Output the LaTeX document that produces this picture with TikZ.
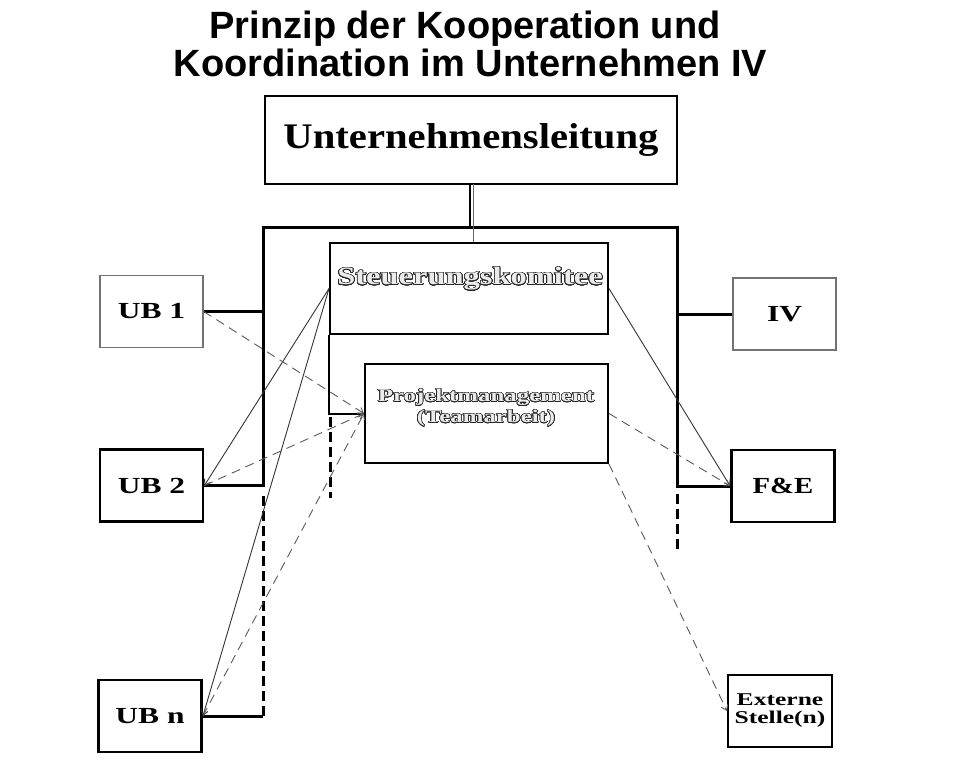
\documentclass[tikz,border=0pt]{standalone}
\usepackage{fontspec}
\setmainfont{Liberation Serif}
\newfontfamily\titlefont{Liberation Sans}
\usepackage{graphicx}
\usepackage{contour}
\contournumber{32}
\usetikzlibrary{arrows.meta,calc}
\newcommand\wide[2]{\scalebox{#1}[1]{#2}}
\newcommand\hollow[2]{\contourlength{#1}\textcolor{black!8}{\contour{black!85}{#2}}}
\begin{document}
\begin{tikzpicture}[x=1pt,y=-1pt,
  box/.style={draw,inner sep=0pt,align=center,font=\bfseries},
  ubfont/.style={font=\bfseries\fontsize{23}{26}\selectfont},
  thinbox/.style={box,draw=black!55,line width=1.4pt,minimum width=103pt,minimum height=72pt,ubfont},
  thickbox/.style={box,line width=2.8pt,minimum width=103pt,minimum height=72pt,ubfont},
  frameline/.style={line width=3pt},
  framedash/.style={line width=3pt,dash pattern=on 10pt off 5pt},
  solidlink/.style={draw=black!80,line width=0.9pt,-{Straight Barb[length=5pt,width=7pt]}},
  dashlink/.style={draw=black!65,line width=0.9pt,dash pattern=on 9pt off 6pt,-{Straight Barb[length=5pt,width=7pt]}},
]
\useasboundingbox (0,0) rectangle (977,763);

% title
\node[font=\titlefont\bfseries\fontsize{38}{40}\selectfont,anchor=base,inner sep=0] (t1) at (465,38) {Prinzip der Kooperation und};
\node[font=\titlefont\bfseries\fontsize{38}{40}\selectfont,anchor=base,inner sep=0] (t2) at (470.5,76) {Koordination im Unternehmen IV};

% boxes
\node[box,line width=2pt,minimum width=412pt,minimum height=88pt,font=\bfseries\fontsize{36}{40}\selectfont] (ul) at (471,140) {\wide{1.13}{Unternehmensleitung}};

\node[draw,line width=2pt,minimum width=278pt,minimum height=91pt,inner sep=0] (sk) at (469,288.5) {};
\node[font=\bfseries\fontsize{25}{28}\selectfont,inner sep=0] (skt) at (470,279) {\wide{1.3}{\hollow{0.6pt}{Steuerungskomitee}}};

\node[draw,line width=2pt,minimum width=243pt,minimum height=99pt,inner sep=0] (pm) at (486.5,413.5) {};
\node[font=\bfseries\fontsize{18}{21}\selectfont,align=center,inner sep=0] (pmt) at (486,408) {\wide{1.38}{\hollow{0.45pt}{Projektmanagement}}\\\wide{1.38}{\hollow{0.45pt}{(Teamarbeit)}}};

\node[thinbox] (ub1) at (151.5,311.5) {\wide{1.37}{UB 1}};
\node[thickbox] (ub2) at (151.5,485.5) {\wide{1.37}{UB 2}};
\node[thickbox] (ubn) at (150,716) {\wide{1.37}{UB n}};
\node[thinbox] (iv) at (784.5,314) {\wide{1.37}{IV}};
\node[thickbox] (fe) at (783,486) {\wide{1.25}{F\&E}};
\node[box,line width=2pt,minimum width=104pt,minimum height=72pt,font=\bfseries\fontsize{18}{18}\selectfont] (ext) at (780,711) {\wide{1.42}{Externe}\\\wide{1.42}{Stelle(n)}};

% frame
\coordinate (fl) at (263,227);
\coordinate (fr) at (677,227);
\draw[frameline] (ub2.east) -- (ub2.east -| fl) -- (fl) -- (fr) -- (fr |- fe.west) -- (fe.west);
\draw[frameline] (ub1.east) -- (ub1.east -| fl);
\draw[frameline] (iv.west) -- (iv.west -| fr);
\draw[frameline] (ubn.east) -- (ubn.east -| fl);
\coordinate (dl) at (263,493);
\draw[framedash] (ubn.east -| fl) -- (dl);
\coordinate (dr1) at (677,494);
\coordinate (dr2) at (677,550);
\draw[framedash] (dr1) -- (dr2);

% top connection
\coordinate (ulx) at (470,184);
\draw[line width=2.6pt] (ulx) -- (ulx |- fl);
\coordinate (uly) at (473.8,184);
\draw[line width=0.8pt,black!60] (uly) -- (uly |- sk.north);

% inner connection
\draw[line width=2pt] (sk.south west) |- (pm.west);
\coordinate (dc1) at (330,417);
\coordinate (dc2) at (330,498);
\draw[framedash] (dc1) -- (dc2);

% links
\draw[solidlink] (sk.west) -- (ub2.east);
\draw[solidlink] (sk.west) -- (ubn.east);
\draw[solidlink] (sk.east) -- (fe.west);
\draw[dashlink] (ub1.east) -- (pm.west);
\draw[dashlink] (ub2.east) -- (pm.west);
\draw[dashlink] (ubn.east) -- (pm.west);
\draw[dashlink] (pm.east) -- (fe.west);
\draw[dashlink] (pm.south east) -- (ext.west);
\end{tikzpicture}
\end{document}
